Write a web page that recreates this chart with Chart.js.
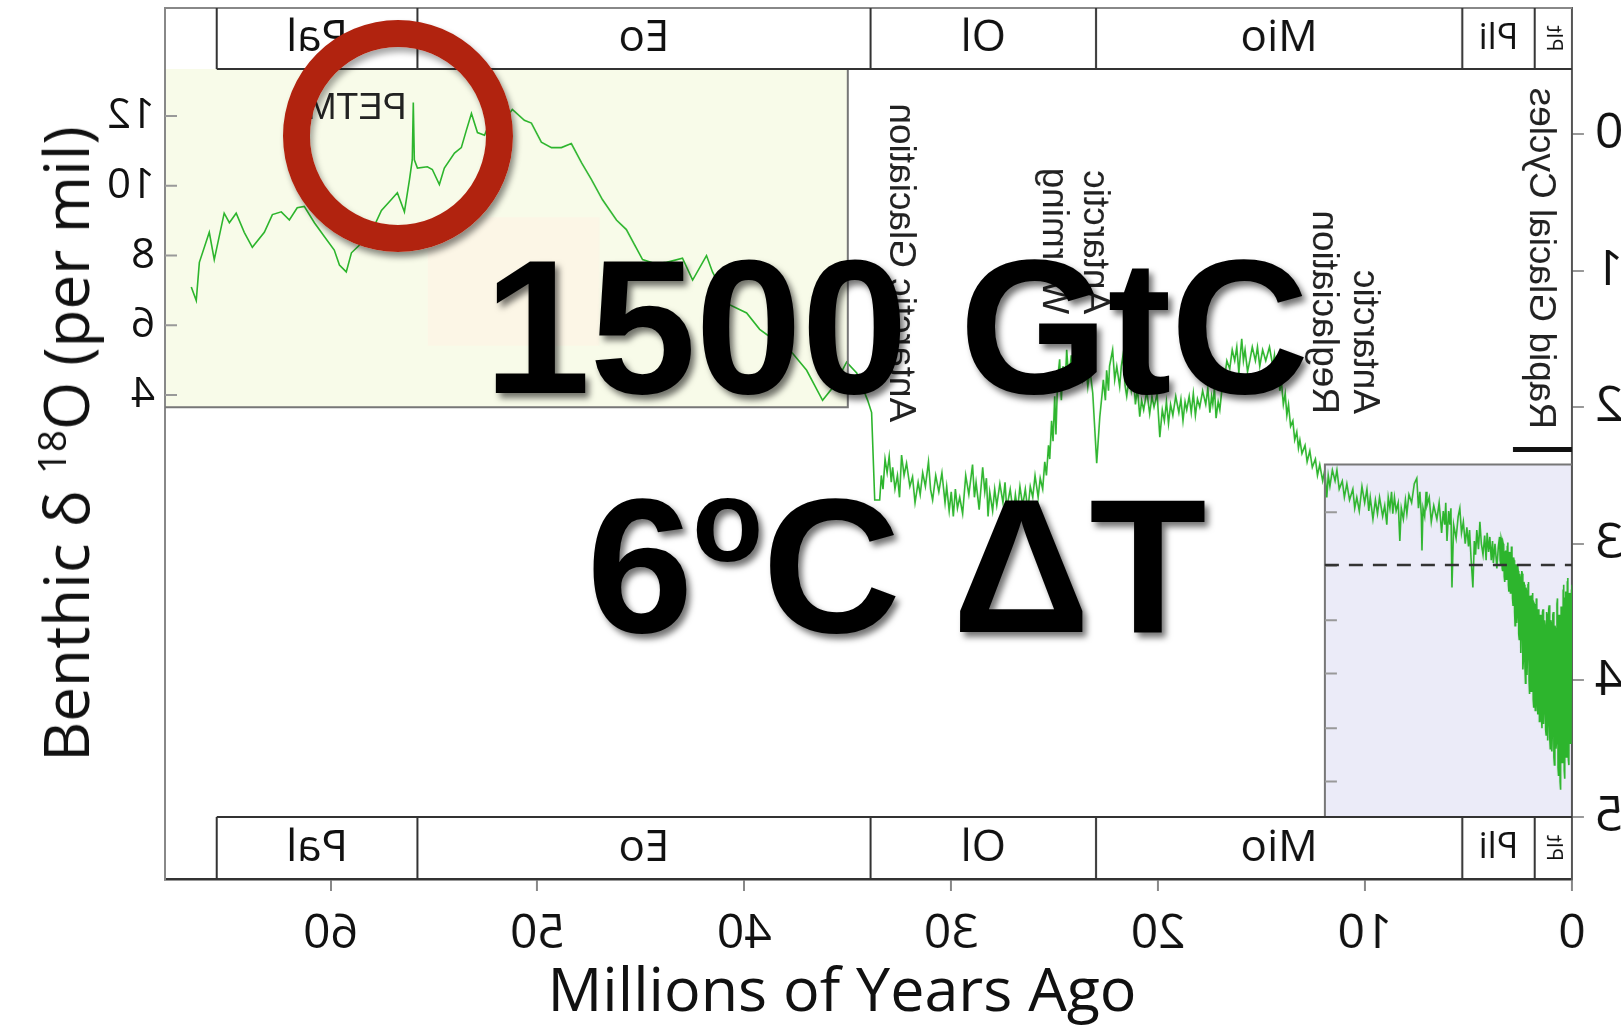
<!DOCTYPE html>
<html lang="en">
<head>
  <meta charset="UTF-8" />
  <title>Benthic d18O - last 65 million years</title>
  <script src="https://cdn.jsdelivr.net/npm/chart.js"></script>
  <style>
    html, body {
      margin: 0;
      padding: 0;
      background: #fff;
      overflow: hidden;
    }

    body {
      width: 1621px;
      height: 1025px;
      position: relative;
    }

    /* the whole plot is shown mirrored left-right */
    #plotWrap {
      position: absolute;
      left: 0;
      top: 0;
      width: 1621px;
      height: 1025px;
      transform: scaleX(-1);
    }

    .title {
      position: absolute;
      font-family: 'Open Sans', sans-serif;
      color: #111;
      white-space: nowrap;
      line-height: 1;
    }

    #xTitle {
      font-size: 61px;
      left: 842px;
      top: 957px;
      transform: translateX(-50%);
    }

    #yTitle {
      font-size: 62px;
      left: 65px;
      top: 444px;
      transform: translate(-50%, -50%) rotate(-90deg);
    }

    #yTitle sup {
      font-size: 0.62em;
      vertical-align: 0.6em;
      line-height: 0;
    }

    #ring {
      position: absolute;
      left: 283px;
      top: 20px;
      width: 230px;
      height: 232px;
      box-sizing: border-box;
      border: 27px solid #b1230f;
      border-radius: 50%;
      box-shadow: 3px 5px 6px rgba(0, 0, 0, 0.45), inset 3px 5px 6px rgba(0, 0, 0, 0.35);
    }

    .big {
      position: absolute;
      left: 896px;
      transform: translateX(-50%);
      font-family: 'Liberation Sans', Arial, sans-serif;
      font-weight: bold;
      font-size: 192px;
      line-height: 1;
      letter-spacing: -1px;
      color: #000;
      white-space: nowrap;
      text-shadow: 4px 5px 6px rgba(0, 0, 0, 0.55);
    }

    #line1 { top: 231px; }
    #line2 { top: 470px; }

    .deg {
      font-size: 116px;
      position: relative;
      top: -71px;
    }
  </style>
</head>
<body>

  <div id="plotWrap">
    <canvas id="paleoChart" width="1621" height="1025"></canvas>
  </div>

  <div class="title" id="yTitle">Benthic δ <sup>18</sup>O (per mil)</div>
  <div class="title" id="xTitle">Millions of Years Ago</div>

  <div id="ring"></div>
  <div class="big" id="line1">1500 GtC</div>
  <div class="big" id="line2">6<span class="deg">o</span>C ΔT</div>

  <script>
    // [age in Ma, benthic d18O in per mil]
    const paleoEocene = [
      [66.73, 1.12], [66.49, 1.22], [66.34, 0.94], [65.86, 0.72], [65.62, 0.92], [65.14, 0.58],
      [64.89, 0.65], [64.56, 0.58], [64.17, 0.72], [63.78, 0.83], [63.20, 0.72], [62.81, 0.59],
      [62.38, 0.57], [61.99, 0.63], [61.61, 0.54], [61.27, 0.53], [60.78, 0.65], [60.30, 0.75],
      [59.82, 0.85], [59.57, 0.96], [59.24, 1.01], [58.99, 0.87], [58.51, 0.80], [58.03, 0.72],
      [57.54, 0.56], [57.06, 0.48], [56.77, 0.43], [56.43, 0.57], [56.19, 0.34], [56.05, 0.19],
      [56.00, -0.23], [55.95, 0.19], [55.80, 0.25], [55.32, 0.24], [55.08, 0.26], [54.74, 0.37],
      [54.50, 0.25], [54.01, 0.14], [53.68, 0.10], [53.43, -0.03], [53.19, -0.15], [52.90, -0.01],
      [52.56, 0.01], [52.20, -0.12], [51.84, -0.20], [51.50, -0.12], [51.21, -0.18], [50.63, -0.10],
      [50.29, -0.08], [49.81, 0.06], [49.32, 0.10], [48.84, 0.10], [48.36, 0.07], [47.87, 0.21],
      [47.40, 0.33], [46.86, 0.48], [46.18, 0.63], [45.70, 0.70], [44.92, 0.92], [44.30, 0.95],
      [43.76, 0.94], [42.99, 0.91], [42.50, 1.07], [41.83, 0.89], [41.54, 1.01], [40.72, 1.25],
      [39.89, 1.31], [39.26, 1.43], [38.54, 1.51], [37.81, 1.58], [36.99, 1.73], [36.22, 1.95],
      [35.64, 1.84], [35.06, 1.67], [34.57, 1.75], [34.04, 1.95], [33.85, 2.04], [33.70, 2.68]
    ];

    const oligocene = [
      [33.46, 2.68], [33.38, 2.50], [33.30, 2.60], [33.20, 2.38], [33.10, 2.48], [33.00, 2.36],
      [32.90, 2.55], [32.83, 2.44], [32.72, 2.60], [32.60, 2.50], [32.50, 2.66], [32.40, 2.35],
      [32.28, 2.50], [32.16, 2.41], [32.00, 2.58], [31.87, 2.51], [31.75, 2.70], [31.60, 2.55],
      [31.50, 2.64], [31.38, 2.48], [31.25, 2.58], [31.10, 2.40], [31.00, 2.60], [30.90, 2.68],
      [30.75, 2.50], [30.60, 2.62], [30.45, 2.48], [30.30, 2.70], [30.22, 2.58], [30.10, 2.76],
      [30.00, 2.62], [29.90, 2.80], [29.80, 2.60], [29.70, 2.74], [29.59, 2.66], [29.45, 2.78],
      [29.30, 2.50], [29.15, 2.64], [28.97, 2.42], [28.88, 2.66], [28.80, 2.55], [28.65, 2.75],
      [28.48, 2.44], [28.38, 2.62], [28.30, 2.52], [28.22, 2.80], [28.14, 2.62], [28.00, 2.76],
      [27.90, 2.60], [27.80, 2.72], [27.65, 2.56], [27.50, 2.70], [27.40, 2.55], [27.32, 2.74],
      [27.15, 2.60], [27.00, 2.78], [26.90, 2.64], [26.80, 2.76], [26.68, 2.58], [26.55, 2.72],
      [26.42, 2.60], [26.30, 2.76], [26.18, 2.58], [26.06, 2.66], [25.95, 2.50], [25.80, 2.66],
      [25.70, 2.52], [25.58, 2.60], [25.48, 2.40], [25.40, 2.50], [25.30, 2.28], [25.24, 2.38],
      [25.15, 2.10], [25.08, 2.25], [25.00, 1.92], [24.94, 2.20], [24.86, 1.80], [24.76, 1.65],
      [24.68, 1.95], [24.60, 1.70], [24.50, 1.85], [24.42, 1.58], [24.32, 1.80], [24.20, 1.62],
      [24.10, 1.78], [24.00, 1.55], [23.90, 1.72], [23.79, 1.62], [23.65, 1.80], [23.50, 1.68],
      [23.40, 1.85], [23.30, 1.72], [23.16, 1.90]
    ];

    const miocene = [
      [22.97, 2.41], [22.82, 2.07], [22.72, 1.92], [22.65, 1.80], [22.55, 1.95], [22.49, 1.73],
      [22.40, 1.88], [22.35, 1.70], [22.20, 1.58], [22.10, 1.80], [22.00, 1.70], [21.86, 1.85],
      [21.78, 1.70], [21.70, 1.62], [21.60, 1.84], [21.52, 1.92], [21.40, 1.78], [21.30, 1.88],
      [21.20, 1.76], [21.10, 1.98], [21.00, 1.86], [20.89, 2.07], [20.80, 1.95], [20.70, 2.02],
      [20.55, 1.88], [20.41, 2.05], [20.30, 1.92], [20.20, 2.00], [20.05, 1.90], [19.92, 2.22],
      [19.80, 2.02], [19.70, 2.10], [19.60, 1.96], [19.50, 2.12], [19.40, 1.98], [19.29, 2.06],
      [19.15, 1.92], [19.00, 2.04], [18.90, 1.94], [18.80, 2.10], [18.70, 1.96], [18.62, 2.02],
      [18.50, 1.92], [18.40, 2.04], [18.30, 1.90], [18.20, 2.06], [18.10, 1.94], [17.99, 2.00],
      [17.85, 1.88], [17.70, 1.98], [17.60, 1.86], [17.50, 2.04], [17.42, 1.92], [17.36, 1.98],
      [17.28, 1.86], [17.20, 2.08], [17.10, 1.96], [17.02, 2.02], [16.90, 1.84], [16.80, 1.80],
      [16.68, 1.66], [16.54, 1.72], [16.42, 1.58], [16.30, 1.66], [16.20, 1.56], [16.10, 1.75],
      [16.02, 1.60], [15.96, 1.50], [15.88, 1.66], [15.80, 1.58], [15.68, 1.74], [15.57, 1.66],
      [15.45, 1.56], [15.30, 1.66], [15.20, 1.56], [15.09, 1.70], [14.95, 1.58], [14.80, 1.66],
      [14.62, 1.56], [14.46, 1.70], [14.38, 1.62], [14.30, 1.78], [14.20, 1.70], [14.12, 1.88],
      [14.05, 1.80], [13.95, 1.98], [13.86, 1.90], [13.78, 2.06], [13.70, 1.98], [13.60, 2.14],
      [13.49, 2.10], [13.40, 2.24], [13.30, 2.18], [13.22, 2.30], [13.15, 2.24], [13.05, 2.34],
      [12.90, 2.28], [12.80, 2.40], [12.67, 2.32], [12.55, 2.44], [12.40, 2.38], [12.30, 2.50],
      [12.19, 2.42], [12.05, 2.54], [11.95, 2.46], [11.85, 2.66], [11.78, 2.50], [11.70, 2.58],
      [11.58, 2.46], [11.45, 2.54], [11.36, 2.46], [11.25, 2.60], [11.10, 2.54], [11.00, 2.66],
      [10.88, 2.56], [10.75, 2.68], [10.59, 2.60], [10.50, 2.74], [10.40, 2.66], [10.28, 2.76],
      [10.15, 2.58], [10.02, 2.70], [9.91, 2.60], [9.82, 2.76], [9.75, 2.66], [9.62, 2.82],
      [9.50, 2.68], [9.40, 2.78], [9.30, 2.66], [9.15, 2.80], [9.05, 2.72], [8.95, 2.86],
      [8.88, 2.66], [8.80, 2.74], [8.72, 2.62], [8.66, 2.78], [8.58, 2.66], [8.50, 2.76],
      [8.40, 2.70], [8.32, 2.98], [8.25, 2.74], [8.15, 2.82], [8.05, 2.68], [7.98, 2.78],
      [7.88, 2.64], [7.75, 2.70], [7.62, 2.56], [7.50, 2.52], [7.42, 2.74], [7.35, 2.62],
      [7.28, 2.80], [7.25, 3.05], [7.20, 2.74], [7.12, 2.80], [7.05, 2.62], [7.01, 2.72],
      [6.90, 2.66], [6.80, 2.84], [6.68, 2.72], [6.53, 2.82], [6.42, 2.70], [6.30, 2.92],
      [6.22, 2.76], [6.15, 2.86], [6.10, 2.70], [6.04, 2.98], [5.96, 2.76], [5.90, 2.86],
      [5.85, 2.74], [5.80, 3.32], [5.72, 2.86], [5.60, 2.96], [5.50, 2.80], [5.42, 2.74]
    ];

    const plioPleistocene = [
      [5.34, 2.92], [5.25, 2.84], [5.16, 3.00], [5.08, 2.88], [5.00, 3.02], [4.95, 2.90],
      [4.88, 3.10], [4.79, 3.32], [4.72, 2.98], [4.66, 3.08], [4.60, 2.90], [4.52, 3.04],
      [4.45, 2.84], [4.38, 3.00], [4.30, 3.08], [4.22, 2.94], [4.15, 3.12], [4.10, 2.92],
      [4.03, 3.06], [3.97, 2.95], [3.90, 3.12], [3.84, 2.98], [3.80, 3.14], [3.72, 3.00],
      [3.63, 3.18], [3.56, 3.02], [3.50, 2.95], [3.475, 3.12], [3.45, 3.15], [3.425, 2.96],
      [3.40, 2.98], [3.375, 3.18], [3.35, 3.20], [3.325, 3.00], [3.30, 3.02], [3.275, 3.24],
      [3.25, 3.28], [3.225, 3.06], [3.20, 3.05], [3.175, 3.26], [3.15, 3.22], [3.125, 3.02],
      [3.10, 2.99], [3.075, 3.30], [3.05, 3.35], [3.025, 3.06], [3.00, 3.08], [2.975, 3.36],
      [2.95, 3.30], [2.925, 3.02], [2.90, 3.05], [2.875, 3.40], [2.85, 3.45], [2.825, 3.10],
      [2.80, 3.12], [2.775, 3.50], [2.75, 3.60], [2.725, 3.18], [2.70, 3.15], [2.675, 3.58],
      [2.65, 3.52], [2.625, 3.16], [2.60, 3.20], [2.575, 3.66], [2.55, 3.70], [2.525, 3.22],
      [2.50, 3.25], [2.475, 3.80], [2.45, 3.62], [2.425, 3.20], [2.40, 3.22], [2.375, 3.92],
      [2.35, 3.85], [2.325, 3.28], [2.30, 3.30], [2.275, 3.90], [2.25, 4.02], [2.225, 3.32],
      [2.20, 3.35], [2.175, 3.96], [2.15, 3.80], [2.125, 3.30], [2.10, 3.28], [2.075, 4.00],
      [2.05, 4.10], [2.025, 3.38], [2.00, 3.40], [1.975, 4.08], [1.95, 3.95], [1.925, 3.38],
      [1.90, 3.36], [1.875, 4.14], [1.85, 4.20], [1.825, 3.44], [1.80, 3.45], [1.775, 4.22],
      [1.75, 4.05], [1.725, 3.40], [1.70, 3.42], [1.675, 4.18], [1.65, 4.25], [1.625, 3.48],
      [1.60, 3.50], [1.575, 4.30], [1.55, 4.15], [1.525, 3.52], [1.50, 3.55], [1.475, 4.28],
      [1.45, 4.35], [1.425, 3.50], [1.40, 3.48], [1.375, 4.32], [1.35, 4.22], [1.325, 3.56],
      [1.30, 3.60], [1.275, 4.36], [1.25, 4.40], [1.225, 3.50], [1.20, 3.52], [1.175, 4.44],
      [1.15, 4.30], [1.125, 3.48], [1.10, 3.45], [1.075, 4.42], [1.05, 4.50], [1.025, 3.56],
      [1.00, 3.58], [0.975, 4.52], [0.95, 4.38], [0.925, 3.52], [0.90, 3.50], [0.875, 4.56],
      [0.85, 4.62], [0.825, 3.60], [0.80, 3.62], [0.775, 4.50], [0.75, 4.45], [0.725, 3.44],
      [0.70, 3.40], [0.675, 4.64], [0.65, 4.70], [0.625, 3.52], [0.60, 3.55], [0.575, 4.74],
      [0.55, 4.80], [0.525, 3.46], [0.50, 3.48], [0.475, 4.60], [0.45, 4.55], [0.425, 3.34],
      [0.40, 3.30], [0.375, 4.66], [0.35, 4.72], [0.325, 3.40], [0.30, 3.35], [0.275, 4.56],
      [0.25, 4.50], [0.225, 3.28], [0.20, 3.25], [0.175, 4.58], [0.15, 4.62], [0.125, 3.36],
      [0.10, 3.40], [0.075, 4.46], [0.05, 4.40], [0.025, 3.34], [0.00, 3.30]
    ];

    const ageTicks = [0, 10, 20, 30, 40, 50, 60];
    const d18OTicks = [0, 1, 2, 3, 4, 5];
    const tempTicks = [4, 6, 8, 10, 12];
    const iceBoxTicks = [2.77, 3.16, 3.56, 3.95, 4.35, 4.74];

    const epochNames = ['Plt', 'Pli', 'Mio', 'Ol', 'Eo', 'Pal'];
    const epochBounds = [0, 1.8, 5.3, 23.0, 33.9, 55.8, 65.5];

    const annotations = [
      { lines: ['Antarctic Glaciation'], age: 32.45, d18O: 2.11 },
      { lines: ['Antarctic', 'Warming'], age: 23.07, d18O: 1.32 },
      { lines: ['Antarctic', 'Reglaciation'], age: 10.06, d18O: 2.05 },
      { lines: ['Rapid Glacial Cycles'], age: 1.55, d18O: 2.16 }
    ];

    const series = [...paleoEocene, ...oligocene, ...miocene, ...plioPleistocene]
      .map(([age, d]) => ({ x: age, y: d }));

    const BAND_H = 61;
    const axisFont = "'Open Sans', sans-serif";
    const noteFont = "'Liberation Sans', Arial, sans-serif";

    // boxes, epoch bands and notes drawn around the data line
    const paleoPlugin = {
      id: 'paleo',
      beforeDraw(chart) {
        const { ctx, chartArea: a, scales: { x, y } } = chart;
        const bandTop = a.top + BAND_H;
        ctx.save();
        // ice-free temperature box
        const wx = x.getPixelForValue(35.0);
        const wy = y.getPixelForValue(2.0);
        ctx.fillStyle = '#f8fbe9';
        ctx.fillRect(wx, bandTop, a.right - wx, wy - bandTop);
        ctx.fillStyle = '#fcf6e6';
        ctx.fillRect(x.getPixelForValue(47.0), y.getPixelForValue(0.61),
          x.getPixelForValue(55.3) - x.getPixelForValue(47.0), y.getPixelForValue(1.55) - y.getPixelForValue(0.61));
        // ice box
        const ix = x.getPixelForValue(11.94);
        const iy = y.getPixelForValue(2.42);
        ctx.fillStyle = '#ebebf8';
        ctx.fillRect(a.left, iy, ix - a.left, y.getPixelForValue(5) - iy);
        ctx.restore();
      },
      afterDraw(chart) {
        const { ctx, chartArea: a, scales: { x, y, yTemp } } = chart;
        const bandTop = a.top + BAND_H;
        const bandBot = y.getPixelForValue(5);
        ctx.save();

        // box outlines
        const wx = x.getPixelForValue(35.0);
        const wy = y.getPixelForValue(2.0);
        const ix = x.getPixelForValue(11.94);
        const iy = y.getPixelForValue(2.42);
        ctx.strokeStyle = '#777';
        ctx.lineWidth = 2;
        ctx.beginPath();
        ctx.moveTo(wx, bandTop); ctx.lineTo(wx, wy); ctx.lineTo(a.right, wy);
        ctx.moveTo(ix, bandBot); ctx.lineTo(ix, iy); ctx.lineTo(a.left, iy);
        ctx.stroke();

        // inward temperature ticks and ice box ticks
        ctx.strokeStyle = '#999';
        ctx.beginPath();
        tempTicks.forEach(t => {
          const py = yTemp.getPixelForValue(t);
          ctx.moveTo(a.right, py); ctx.lineTo(a.right - 12, py);
        });
        iceBoxTicks.forEach(d => {
          const py = y.getPixelForValue(d);
          ctx.moveTo(ix, py); ctx.lineTo(ix - 12, py);
        });
        ctx.stroke();

        // dashed line in the ice box
        ctx.strokeStyle = '#333';
        ctx.lineWidth = 2.5;
        ctx.setLineDash([14, 10]);
        ctx.beginPath();
        const dy = y.getPixelForValue(3.155);
        ctx.moveTo(ix, dy); ctx.lineTo(a.left, dy);
        ctx.stroke();
        ctx.setLineDash([]);

        // bar for the rapid glacial cycles
        ctx.strokeStyle = '#111';
        ctx.lineWidth = 5;
        ctx.beginPath();
        const by = y.getPixelForValue(2.31);
        ctx.moveTo(x.getPixelForValue(2.85), by); ctx.lineTo(a.left, by);
        ctx.stroke();

        // top frame
        ctx.strokeStyle = '#888';
        ctx.lineWidth = 2;
        ctx.beginPath();
        ctx.moveTo(a.left, a.top); ctx.lineTo(a.right, a.top);
        ctx.stroke();

        // epoch bands, top and bottom
        const x0 = x.getPixelForValue(epochBounds[epochBounds.length - 1]);
        ctx.strokeStyle = '#333';
        ctx.lineWidth = 2;
        ctx.beginPath();
        ctx.moveTo(a.left, bandTop); ctx.lineTo(x0, bandTop);
        ctx.moveTo(a.left, bandBot); ctx.lineTo(x0, bandBot);
        epochBounds.slice(1).forEach(b => {
          const px = x.getPixelForValue(b);
          ctx.moveTo(px, a.top); ctx.lineTo(px, bandTop);
          ctx.moveTo(px, bandBot); ctx.lineTo(px, a.bottom);
        });
        ctx.stroke();

        ctx.fillStyle = '#111';
        ctx.textAlign = 'center';
        ctx.textBaseline = 'middle';
        epochNames.forEach((name, i) => {
          const cx = (x.getPixelForValue(epochBounds[i]) + x.getPixelForValue(epochBounds[i + 1])) / 2;
          [(a.top + bandTop) / 2, (bandBot + a.bottom) / 2].forEach(cy => {
            if (name === 'Plt') {
              ctx.save();
              ctx.translate(cx, cy);
              ctx.rotate(-Math.PI / 2);
              ctx.font = '22px ' + axisFont;
              ctx.fillText(name, 0, 0);
              ctx.restore();
            } else {
              ctx.font = (name === 'Pli' ? 36 : 44) + 'px ' + axisFont;
              ctx.fillText(name, cx, cy);
            }
          });
        });

        // notes
        ctx.fillStyle = '#222';
        ctx.font = '37px ' + noteFont;
        ctx.textAlign = 'left';
        annotations.forEach(n => {
          ctx.save();
          ctx.translate(x.getPixelForValue(n.age), y.getPixelForValue(n.d18O));
          ctx.rotate(-Math.PI / 2);
          n.lines.forEach((t, k) => ctx.fillText(t, 0, k * 41));
          ctx.restore();
        });

        ctx.font = "36px 'Liberation Sans Narrow', " + noteFont;
        ctx.textAlign = 'center';
        ctx.fillText('PETM', x.getPixelForValue(58.75), y.getPixelForValue(-0.18));

        ctx.restore();
      }
    };

    new Chart(document.getElementById('paleoChart'), {
      type: 'scatter',
      data: {
        datasets: [{
          label: 'Benthic d18O',
          data: series,
          showLine: true,
          borderColor: '#2db52d',
          borderWidth: 1.6,
          pointRadius: 0,
          tension: 0
        }]
      },
      options: {
        responsive: false,
        animation: false,
        events: [],
        layout: { padding: { top: 8, left: 0, right: 0, bottom: 0 } },
        plugins: {
          legend: { display: false },
          tooltip: { enabled: false }
        },
        scales: {
          x: {
            type: 'linear',
            position: 'bottom',
            min: 0,
            max: 68,
            afterBuildTicks: s => { s.ticks = ageTicks.map(v => ({ value: v })); },
            afterFit: s => { s.height = 146; s.paddingLeft = 0; s.paddingRight = 0; },
            grid: { drawOnChartArea: false, tickLength: 12, color: '#888', lineWidth: 2 },
            border: { color: '#333', width: 2.5 },
            ticks: { font: { family: axisFont, size: 48 }, color: '#111', padding: 15, maxRotation: 0, autoSkip: false }
          },
          y: {
            type: 'linear',
            position: 'left',
            reverse: true,
            min: -0.922,
            max: 5.454,
            afterBuildTicks: s => { s.ticks = d18OTicks.map(v => ({ value: v })); },
            afterFit: s => { s.width = 49; s.paddingTop = 0; s.paddingBottom = 0; },
            grid: { drawOnChartArea: false, tickLength: 12, color: '#999', lineWidth: 2 },
            border: { color: '#555', width: 2 },
            ticks: { font: { family: axisFont, size: 50 }, color: '#111', padding: 11 }
          },
          yTemp: {
            type: 'linear',
            position: 'right',
            min: -9.88,
            max: 15.10,
            afterBuildTicks: s => { s.ticks = tempTicks.map(v => ({ value: v })); },
            afterFit: s => { s.width = 165; s.paddingTop = 0; s.paddingBottom = 0; },
            grid: { drawOnChartArea: false, drawTicks: false },
            border: { color: '#888', width: 2 },
            ticks: { font: { family: axisFont, size: 42 }, color: '#111', padding: 10 }
          }
        }
      },
      plugins: [paleoPlugin]
    });
  </script>
</body>
</html>
